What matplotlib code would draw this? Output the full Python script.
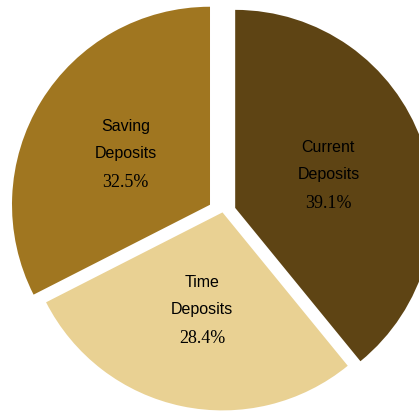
import numpy as np
import matplotlib
matplotlib.use("Agg")
import matplotlib.pyplot as plt

categories = ["Current\nDeposits", "Time\nDeposits", "Saving\nDeposits"]
name_top = ["Current", "Time", "Saving"]
shares = [39.1, 28.4, 32.5]
pct_labels = ["39.1%", "28.4%", "32.5%"]
colors = ["#5E4414", "#E9D193", "#A07620"]
explode = [0.068, 0.0, 0.074]

fig = plt.figure(figsize=(4.19, 4.11), dpi=100)
ax = fig.add_axes([0, 0, 1, 1])
wedges, _ = ax.pie(shares, colors=colors, explode=explode, startangle=90,
                   counterclock=False, radius=1.0,
                   wedgeprops=dict(linewidth=0))
ax.set_aspect("equal")
scale = 198.0
ax.set_xlim(-222.5 / scale, -222.5 / scale + 419 / scale)
ax.set_ylim(-198.6 / scale, -198.6 / scale + 411 / scale)
ax.axis("off")

for w, top, pct in zip(wedges, name_top, pct_labels):
    mid = np.deg2rad((w.theta1 + w.theta2) / 2)
    cx, cy = w.center
    x = cx + 0.5 * w.r * np.cos(mid)
    y = cy + 0.5 * w.r * np.sin(mid)
    ax.annotate(top, (x, y), xytext=(0, 19.2), textcoords="offset points",
                ha="center", va="center", fontsize=11.5,
                family="Liberation Sans", color="black")
    ax.annotate("Deposits", (x, y), xytext=(0, 0), textcoords="offset points",
                ha="center", va="center", fontsize=11.5,
                family="Liberation Sans", color="black")
    ax.annotate(pct, (x, y), xytext=(0, -20.9), textcoords="offset points",
                ha="center", va="center", fontsize=13,
                family="Liberation Serif", color="black")

fig.savefig("out.png", dpi=100)
